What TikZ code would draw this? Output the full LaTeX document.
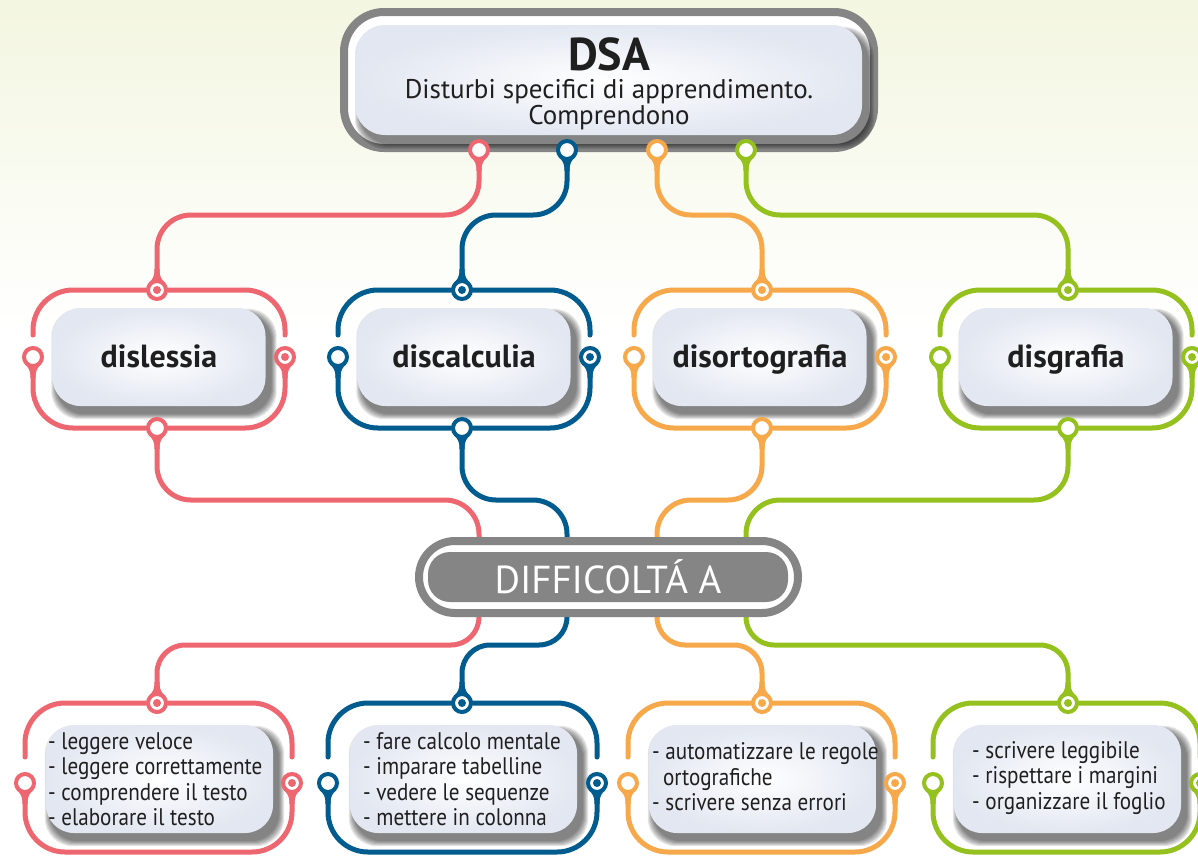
\documentclass[tikz,border=0pt]{standalone}
\usepackage{fontspec}
\setmainfont{PT Sans}
\newfontfamily\listfont[FakeStretch=0.88]{PT Sans}
\usetikzlibrary{calc}

\definecolor{dsared}{HTML}{EE6670}
\definecolor{dsablue}{HTML}{005B8E}
\definecolor{dsaorange}{HTML}{F7A84A}
\definecolor{dsagreen}{HTML}{95C11E}
\definecolor{framegray}{HTML}{858585}
\definecolor{boxedge}{HTML}{E2E7F1}
\definecolor{bgtop}{HTML}{F3F6E0}
\definecolor{ink}{HTML}{1F1F1F}

\pgfdeclarelayer{back}
\pgfdeclarelayer{bg}
\pgfsetlayers{back,bg,main}

\tikzset{
  link/.style={draw=#1, line width=5pt, line cap=round, rounded corners=34pt},
  ringo/.style={circle, draw=#1, fill=white, line width=4pt, minimum size=18pt, inner sep=0pt},
  ringt/.style={ringo=#1, path picture={\fill[#1] (path picture bounding box.center) circle[radius=4pt];}},
  pics/tail/.style={code={\fill[#1] (-8,7.5) .. controls (-4.5,10.5) and (-2.5,13) .. (-2.5,21) -- (2.5,21) .. controls (2.5,13) and (4.5,10.5) .. (8,7.5) -- cycle;}},
  softbox/.style={rounded corners=28pt, inner color=white, outer color=boxedge},
  shadowpart/.style={black, opacity=0.1, rounded corners=28pt},
  catbox/.style={softbox, minimum width=213pt, minimum height=98pt, text=ink,
    text height=24pt, text depth=4pt, font=\fontsize{32}{36}\selectfont\bfseries},
  listbox/.style={softbox, minimum width=227pt, minimum height=108pt},
  listtext/.style={font=\listfont\fontsize{24}{25.5}\selectfont, text=ink, align=left, inner sep=0pt},
}

\begin{document}
\begin{tikzpicture}[x=1pt, y=-1pt]
  %\draw[lightgray] (0,0) grid[step=50] (1198,855);
  \useasboundingbox (0,0) rectangle (1198,855);
  \clip (0,0) rectangle (1198,855);
  \begin{pgfonlayer}{back}
    \fill[white] (0,0) rectangle (1198,855);
    \shade[top color=bgtop, bottom color=white] (0,0) rectangle (1198,330);
  \end{pgfonlayer}

  \coordinate (lvl1) at (0,215);
  \coordinate (lvl2) at (0,500);
  \coordinate (lvl3) at (0,645);

  % DSA
  \node[draw=framegray, line width=8pt, fill=white, rounded corners=40pt,
    minimum width=530pt, minimum height=136pt] (dsa-frame) at (609,80) {};
  \foreach \i in {1,...,6}
    \fill[shadowpart, rounded corners=30pt] ({361-\i},{33-\i}) rectangle ({868+\i},{143+\i});
  \node[softbox, rounded corners=30pt, minimum width=507pt, minimum height=110pt] (dsa) at (608.5,80) {};
  \node[font=\fontsize{46}{50}\selectfont\bfseries, text=ink, inner sep=0pt] (dsa-title) at (609,54) {DSA};
  \node[font=\fontsize{27}{26}\selectfont, text=ink, align=center, inner sep=0pt] (dsa-sub) at (609,105)
    {Disturbi specifici di apprendimento.\\Comprendono};

  \node[ringo=dsared] (p-a) at (479,150) {};
  \node[ringo=dsablue] (p-b) at (567,150) {};
  \node[ringo=dsaorange] (p-c) at (657,150) {};
  \node[ringo=dsagreen] (p-d) at (746,150) {};
  \pic at (p-a) {tail=dsared};
  \pic at (p-b) {tail=dsablue};
  \pic at (p-c) {tail=dsaorange};
  \pic at (p-d) {tail=dsagreen};

  % DIFFICOLTA
  \node[draw=framegray, line width=8pt, fill=white, rounded corners=36pt,
    minimum width=379pt, minimum height=72pt] (diff-frame) at (608.5,577) {};
  \node[fill=framegray, rounded corners=22pt, minimum width=360pt, minimum height=50pt,
    text=white, font=\fontsize{39}{42}\selectfont] (diff) at (608,577) {DIFFICOLTÁ A};
  \foreach \k in {a,b,c,d}{
    \coordinate (e-\k) at (diff-frame.north -| p-\k);
    \coordinate (s-\k) at (diff-frame.south -| p-\k);
  }

  % disturbi
  \foreach \k/\c/\t/\l/\r/\txt in {a/dsared/157/33/285/dislessia,
      b/dsablue/462/338/590/discalculia,
      c/dsaorange/762/634/886/disortografia,
      d/dsagreen/1068/940/1192/disgrafia}{
    \node[catbox] (m-\k) at ({(\l+\r)/2},357) {\txt};
    \node[ringt=\c] (m-\k-t) at (\t,290) {};
    \node[ringo=\c] (m-\k-b) at (\t,428) {};
    \node[ringo=\c] (m-\k-l) at (\l,357) {};
    \node[ringt=\c] (m-\k-r) at (\r,357) {};
    \pic[rotate=180] at (m-\k-t) {tail=\c};
    \pic at (m-\k-b) {tail=\c};
    \pic at (m-\k-l) {tail=\c};
    \pic at (m-\k-r) {tail=\c};
  }

  % difficolta
  \foreach \k/\c/\t/\l/\r in {a/dsared/157/25/292, b/dsablue/462/328/597,
      c/dsaorange/762/628/895, d/dsagreen/1068/933/1200}{
    \node[listbox] (b-\k) at ({(\l+\r)/2+1},779) {};
    \node[ringt=\c] (b-\k-t) at (\t,703) {};
    \node[ringo=\c] (b-\k-l) at (\l,783) {};
    \node[ringt=\c] (b-\k-r) at (\r,783) {};
    \pic[rotate=180] at (b-\k-t) {tail=\c};
    \pic at (b-\k-l) {tail=\c};
    \pic at (b-\k-r) {tail=\c};
  }

  \begin{pgfonlayer}{bg}
    \foreach \k/\c in {a/dsared, b/dsablue, c/dsaorange, d/dsagreen}{
      \foreach \i in {1,...,6}{
        \fill[shadowpart] ($(m-\k.south west)+({5-\i},{7+\i})$) rectangle ($(m-\k.north east)+({5+\i},{7-\i})$);
        \fill[shadowpart] ($(b-\k.south west)+({5-\i},{7+\i})$) rectangle ($(b-\k.north east)+({5+\i},{7-\i})$);
      }
      \draw[link=\c, rounded corners=40pt] ($(m-\k-l)+(0,-22)$) |- (m-\k-t) -| ($(m-\k-r)+(0,-22)$);
      \draw[link=\c, rounded corners=40pt] (m-\k-l) |- (m-\k-b) -| (m-\k-r);
      \draw[link=\c] (p-\k) -- (p-\k |- lvl1) -| (m-\k-t);
      \draw[link=\c] (m-\k-b) -- (m-\k-b |- lvl2) -| (e-\k);
      \draw[link=\c, rounded corners=40pt] ($(b-\k-l)+(0,-26)$) |- (b-\k-t) -| ($(b-\k-r)+(0,-26)$);
      \draw[link=\c, rounded corners=40pt] (b-\k-l) |- ($(b-\k-t)+(0,149)$) -| (b-\k-r);
      \draw[link=\c, rounded corners=28pt] (s-\k) -- (s-\k |- lvl3) -| (b-\k-t);
    }
  \end{pgfonlayer}

  \node[listtext, anchor=west] (b-a-txt) at (48,779)
    {- leggere veloce\\- leggere correttamente\\- comprendere il testo\\- elaborare il testo};
  \node[listtext, anchor=west] (b-b-txt) at (363,779)
    {- fare calcolo mentale\\- imparare tabelline\\- vedere le sequenze\\- mettere in colonna};
  \node[listtext, anchor=west] (b-c-txt) at (652,777)
    {- automatizzare le regole\\\hspace*{0.45em}ortografiche\\- scrivere senza errori};
  \node[listtext, anchor=west] (b-d-txt) at (972,778)
    {- scrivere leggibile\\- rispettare i margini\\- organizzare il foglio};
\end{tikzpicture}
\end{document}
